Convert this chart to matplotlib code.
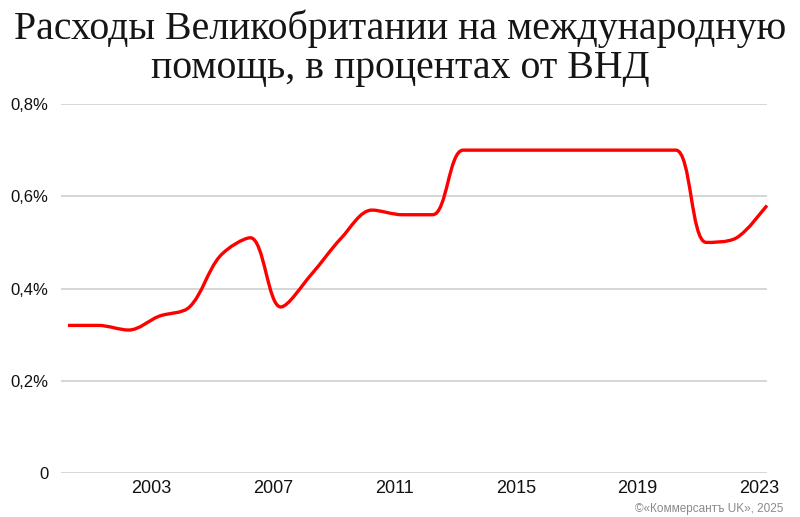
import matplotlib
matplotlib.use('Agg')
import matplotlib.pyplot as plt
from matplotlib.path import Path
from matplotlib.patches import PathPatch
from matplotlib.transforms import ScaledTranslation
from matplotlib import font_manager
import math

# данные: расходы на международную помощь, % ВНД
years = list(range(2000, 2024))
values = [0.32, 0.32, 0.31, 0.34, 0.36, 0.47, 0.51, 0.36, 0.43, 0.51, 0.57, 0.56,
          0.56, 0.70, 0.70, 0.70, 0.70, 0.70, 0.70, 0.70, 0.70, 0.50, 0.51, 0.58]
xtick_years = [2003, 2007, 2011, 2015, 2019, 2023]
yticks = [0, 0.2, 0.4, 0.6, 0.8]
ytick_labels = ['0', '0,2%', '0,4%', '0,6%', '0,8%']
title_lines = ['Расходы Великобритании на международную', 'помощь, в процентах от ВНД']
credit = '©«Коммерсантъ UK», 2025'

names = {f.name for f in font_manager.fontManager.ttflist}
narrow = 'Liberation Sans Narrow' if 'Liberation Sans Narrow' in names else 'Liberation Sans'

fig = plt.figure(figsize=(8, 5.17), dpi=100)
ax = fig.add_axes([0.07625, 0.0851, 0.8825, 0.7137])
ax.set_xlim(1999.77, 2022.87)
ax.set_ylim(0, 0.8)

# сглаженная линия (как в Excel): кривые Безье, касательные масштабируются длиной отрезков
pts = list(zip(years, values))
disp = [tuple(ax.transData.transform(p)) for p in pts]
n = len(pts)

def dist(i, j):
    return math.hypot(disp[i][0] - disp[j][0], disp[i][1] - disp[j][1])

def flat(i):
    # в экстремумах и на ровных участках касательная горизонтальна
    if i == 0 or i == n - 1:
        return False
    a = values[i] - values[i - 1]
    b = values[i + 1] - values[i]
    return a * b <= 0

t = 1 / 6
verts = [pts[0]]
codes = [Path.MOVETO]
for i in range(n - 1):
    i0 = max(i - 1, 0)
    i3 = min(i + 2, n - 1)
    p0, p1, p2, p3 = pts[i0], pts[i], pts[i + 1], pts[i3]
    d01, d12, d23 = dist(i0, i), dist(i, i + 1), dist(i + 1, i3)
    k1 = 2 * d12 / (d01 + d12) if d01 > 0 else 1
    k2 = 2 * d12 / (d12 + d23) if d23 > 0 else 1
    dy1 = 0 if flat(i) else (p2[1] - p0[1]) * t * k1
    dy2 = 0 if flat(i + 1) else (p3[1] - p1[1]) * t * k2
    c1 = (p1[0] + (p2[0] - p0[0]) * t * k1, p1[1] + dy1)
    c2 = (p2[0] - (p3[0] - p1[0]) * t * k2, p2[1] - dy2)
    verts += [c1, c2, p2]
    codes += [Path.CURVE4] * 3
patch = PathPatch(Path(verts, codes), facecolor='none', edgecolor='#ff0000',
                  lw=2.4, capstyle='butt', joinstyle='round', clip_on=False, zorder=3)
ax.add_patch(patch)

ax.set_yticks(yticks)
ax.set_yticklabels(ytick_labels, fontsize=12, family='Liberation Sans')
ax.set_xticks(xtick_years)
ax.set_xticklabels([str(y) for y in xtick_years], fontsize=13, family='Liberation Sans')
ax.tick_params(axis='both', length=0, colors='#111111')
ax.tick_params(axis='y', pad=9)
ax.tick_params(axis='x', pad=5)
for lab in ax.get_xticklabels():
    lab.set_transform(lab.get_transform() + ScaledTranslation(-0.08, 0, fig.dpi_scale_trans))

ax.grid(True, axis='y', color='#d0d0d0', lw=1.2)
ax.set_axisbelow(True)
for s in ax.spines.values():
    s.set_visible(False)

for line, base in zip(title_lines, [39, 78]):
    fig.text(0.5, 1 - base / 517, line, ha='center', va='baseline', fontsize=28.6,
             family='Liberation Serif', color='#151515')
fig.text(0.979, 1 - 512 / 517, credit, ha='right', va='baseline', fontsize=8.5,
         family=narrow, color='#8a8a8a')

fig.savefig('out.png', dpi=100)
